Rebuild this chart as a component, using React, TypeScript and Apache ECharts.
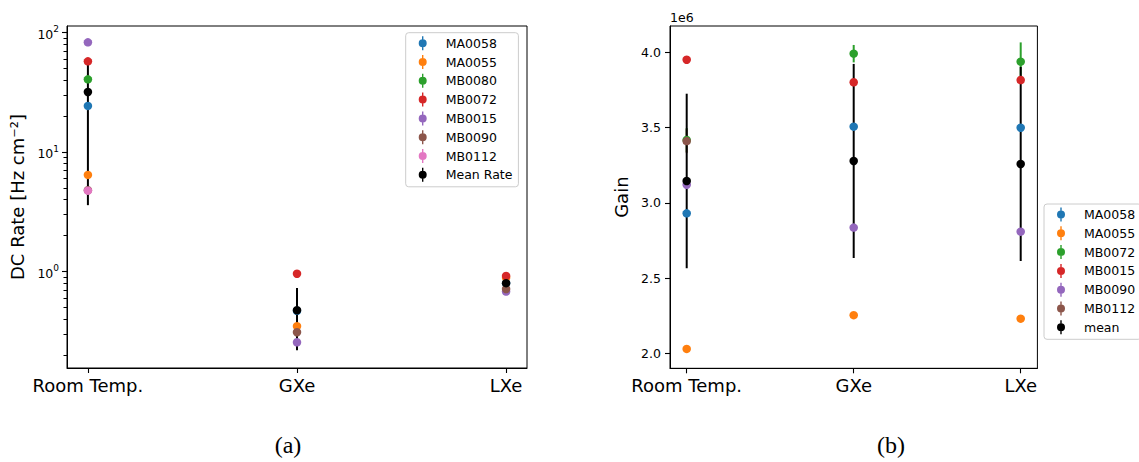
import React, { useEffect, useRef } from "react";
import * as echarts from "echarts";

// ---------- shared ----------
const categories = ["Room Temp.", "GXe", "LXe"];
const catX = [0, 1, 2];

// ---------- (a) dark-count rate [Hz cm^-2], log axis ----------
const dcNames = ["MA0058", "MA0055", "MB0080", "MB0072", "MB0015", "MB0090", "MB0112", "Mean Rate"];
const dcColors = ["#1f77b4", "#ff7f0e", "#2ca02c", "#d62728", "#9467bd", "#8c564b", "#e377c2", "#000000"];
const dcMA0058 = [24.4, 0.47, 0.8];
const dcMA0055 = [6.45, 0.349, 0.89];
const dcMB0080 = [40.7, null, null];
const dcMB0072 = [57.6, 0.96, 0.92];
const dcMB0015 = [83.0, 0.256, 0.68];
const dcMB0090 = [4.8, 0.311, 0.716];
const dcMB0112 = [4.76, null, null];
const dcMean = [31.9, 0.475, 0.8];
const dcErrMA0058 = [0.6, 0.01, 0.02];
const dcErrMA0055 = [0.2, 0.01, 0.02];
const dcErrMB0080 = [1.0, null, null];
const dcErrMB0072 = [1.4, 0.02, 0.02];
const dcErrMB0015 = [2.0, 0.01, 0.03];
const dcErrMB0090 = [0.15, 0.01, 0.02];
const dcErrMB0112 = [0.15, null, null];
const dcErrMean = [28.3, 0.255, 0.094];
const dcMajorTicks = [1, 10, 100];
const dcMinorTicks = [0.2, 0.3, 0.4, 0.5, 0.6, 0.7, 0.8, 0.9, 2, 3, 4, 5, 6, 7, 8, 9, 20, 30, 40, 50, 60, 70, 80, 90];

// ---------- (b) gain ----------
const gainNames = ["MA0058", "MA0055", "MB0072", "MB0015", "MB0090", "MB0112", "mean"];
const gainColors = ["#1f77b4", "#ff7f0e", "#2ca02c", "#d62728", "#9467bd", "#8c564b", "#000000"];
const gainMA0058 = [2.93e6, 3.506e6, 3.499e6];
const gainMA0055 = [2.029e6, 2.253e6, 2.23e6];
const gainMB0072 = [3.417e6, 3.991e6, 3.938e6];
const gainMB0015 = [3.951e6, 3.801e6, 3.816e6];
const gainMB0090 = [3.12e6, 2.835e6, 2.808e6];
const gainMB0112 = [3.41e6, null, null];
const gainMean = [3.145e6, 3.278e6, 3.258e6];
const gainErrMA0058 = [0.02e6, 0.02e6, 0.02e6];
const gainErrMA0055 = [0.01e6, 0.01e6, 0.01e6];
const gainErrMB0072 = [0.08e6, 0.058e6, 0.128e6];
const gainErrMB0015 = [0.02e6, 0.02e6, 0.02e6];
const gainErrMB0090 = [0.02e6, 0.02e6, 0.02e6];
const gainErrMB0112 = [0.08e6, null, null];
const gainErrMean = [0.58e6, 0.645e6, 0.645e6];
const gainTicks = [2.0e6, 2.5e6, 3.0e6, 3.5e6, 4.0e6];

const dcValues = [dcMA0058, dcMA0055, dcMB0080, dcMB0072, dcMB0015, dcMB0090, dcMB0112, dcMean];
const dcErrors = [dcErrMA0058, dcErrMA0055, dcErrMB0080, dcErrMB0072, dcErrMB0015, dcErrMB0090, dcErrMB0112, dcErrMean];
const gainValues = [gainMA0058, gainMA0055, gainMB0072, gainMB0015, gainMB0090, gainMB0112, gainMean];
const gainErrors = [gainErrMA0058, gainErrMA0055, gainErrMB0072, gainErrMB0015, gainErrMB0090, gainErrMB0112, gainErrMean];

const FONT = "DejaVu Sans";
const BIG = 18;
const LEGEND_ICON =
  "path://M4.3,0 L5.7,0 L5.7,14 L4.3,14 Z M1,7 A4,4 0 1,1 9,7 A4,4 0 1,1 1,7 Z";

function buildSeries(names: string[], colors: string[], values: any[], errors: any[]) {
  const series: any[] = [];
  names.forEach((name, k) => {
    const pts: any[] = [];
    const eb: any[] = [];
    catX.forEach((x, i) => {
      const v = values[k][i];
      if (v == null) return;
      pts.push([x, v]);
      const e = errors[k][i];
      if (e != null) eb.push([x, v, e]);
    });
    const color = colors[k];
    series.push({
      type: "custom",
      z: 1,
      silent: true,
      data: eb,
      encode: { x: 0, y: 1 },
      renderItem: (_p: any, api: any) => {
        const x = api.value(0);
        const y = api.value(1);
        const e = api.value(2);
        const a = api.coord([x, y - e]);
        const b = api.coord([x, y + e]);
        return {
          type: "line",
          shape: { x1: a[0], y1: a[1], x2: b[0], y2: b[1] },
          style: { stroke: color, lineWidth: 2 },
        };
      },
    });
    series.push({
      type: "scatter",
      name,
      z: 2,
      symbol: "circle",
      symbolSize: 8.5,
      itemStyle: { color, opacity: 1 },
      emphasis: { disabled: true },
      data: pts,
    });
  });
  return series;
}

const baseX = (margin: number) => ({
  type: "value",
  min: -0.1,
  max: 2.1,
  axisLine: { show: true, onZero: false, lineStyle: { color: "#000", width: 1 } },
  axisTick: { show: true, customValues: catX, length: 5, lineStyle: { color: "#000", width: 1.1 } },
  axisLabel: {
    customValues: catX,
    formatter: (v: number) => categories[Math.round(v)],
    fontSize: BIG,
    color: "#000",
    fontFamily: FONT,
    margin,
  },
  splitLine: { show: false },
});

function legendCfg(names: string[], left: number, top: number) {
  return {
    orient: "vertical",
    left,
    top,
    padding: [3.5, 6, 5, 13],
    itemWidth: 10,
    itemHeight: 14,
    itemGap: 4.8,
    backgroundColor: "#fff",
    borderColor: "#cccccc",
    borderWidth: 1,
    borderRadius: 3,
    selectedMode: false,
    data: names.map((n) => ({ name: n, icon: LEGEND_ICON })),
    textStyle: { fontSize: 12.5, fontFamily: FONT, color: "#000", padding: [0, 0, 0, 13], lineHeight: 14 },
  };
}

function caption(text: string, x: number): any {
  return {
    type: "text",
    x,
    y: 445,
    style: {
      text,
      fontSize: 24,
      fontFamily: "Liberation Serif",
      fill: "#000",
      align: "center",
      verticalAlign: "middle",
    },
  };
}

function optionA(): any {
  return {
    animation: false,
    grid: { left: 67, top: 26, width: 460, height: 342, show: true, borderColor: "#000", borderWidth: 1 },
    xAxis: [baseX(8)],
    yAxis: [
      {
        type: "log",
        logBase: 10,
        min: 0.156,
        max: 113.8,
        axisLine: { show: true, onZero: false, lineStyle: { color: "#000", width: 1 } },
        axisTick: { show: true, customValues: dcMajorTicks, length: 5, lineStyle: { color: "#000", width: 1.1 } },
        axisLabel: {
          customValues: dcMajorTicks,
          formatter: (v: number) => `{b|10}{s|${Math.round(Math.log10(v))}}`,
          margin: 8,
          rich: {
            b: { fontSize: 12.5, fontFamily: FONT, color: "#000", lineHeight: 16, verticalAlign: "bottom" },
            s: { fontSize: 9, fontFamily: FONT, color: "#000", lineHeight: 10, verticalAlign: "top" },
          },
        },
        splitLine: { show: false },
        minorTick: { show: false },
        name: "DC Rate [Hz cm⁻²]",
        nameLocation: "middle",
        nameGap: 30,
        nameTextStyle: { fontSize: BIG, fontFamily: FONT, color: "#000" },
      },
    ],
    legend: legendCfg(dcNames, 405.7, 32.7),
    series: buildSeries(dcNames, dcColors, dcValues, dcErrors),
    graphic: [caption("(a)", 288)],
  };
}

function optionB(): any {
  return {
    animation: false,
    grid: { left: 100, top: 26, width: 367.4, height: 342.3, show: true, borderColor: "#000", borderWidth: 1 },
    xAxis: [baseX(8)],
    yAxis: [
      {
        type: "value",
        min: 1.9e6,
        max: 4.175e6,
        axisLine: { show: true, onZero: false, lineStyle: { color: "#000", width: 1 } },
        axisTick: { show: true, customValues: gainTicks, length: 5, lineStyle: { color: "#000", width: 1.1 } },
        axisLabel: {
          customValues: gainTicks,
          formatter: (v: number) => (v / 1e6).toFixed(1),
          fontSize: 12.5,
          fontFamily: FONT,
          color: "#000",
          margin: 9,
        },
        splitLine: { show: false },
        name: "Gain",
        nameLocation: "middle",
        nameGap: 31,
        nameTextStyle: { fontSize: BIG, fontFamily: FONT, color: "#000" },
      },
    ],
    legend: legendCfg(gainNames, 474, 204),
    series: buildSeries(gainNames, gainColors, gainValues, gainErrors),
    graphic: [
      {
        type: "text",
        left: 100,
        top: 11,
        style: { text: "1e6", fontSize: 12.5, fontFamily: FONT, fill: "#000" },
      },
      caption("(b)", 321),
    ],
  };
}

export default function App() {
  const refA = useRef<HTMLDivElement>(null);
  const refB = useRef<HTMLDivElement>(null);
  useEffect(() => {
    document.body.style.margin = "0";
    const a = echarts.init(refA.current!, null, { renderer: "svg" });
    const b = echarts.init(refB.current!, null, { renderer: "svg" });
    a.setOption(optionA());
    b.setOption(optionB());
    // minor log ticks: positions taken from the axis scale of chart (a)
    const x0 = Math.round(a.convertToPixel({ xAxisIndex: 0 }, -0.1) as number);
    const minorLines = dcMinorTicks.map((v) => {
      const y = Math.floor(a.convertToPixel({ yAxisIndex: 0 }, v) as number) + 0.5;
      return {
        type: "line",
        silent: true,
        z: 100,
        shape: { x1: x0 - 3.5, y1: y, x2: x0, y2: y },
        style: { stroke: "#000", lineWidth: 1 },
      };
    });
    a.setOption({ graphic: [caption("(a)", 288), ...minorLines] });
    return () => {
      a.dispose();
      b.dispose();
    };
  }, []);
  return (
    <div style={{ position: "relative", width: 1139, height: 462, background: "#fff", overflow: "hidden" }}>
      <div ref={refA} style={{ position: "absolute", left: 0, top: 0, width: 570, height: 462 }} />
      <div ref={refB} style={{ position: "absolute", left: 570, top: 0, width: 569, height: 462 }} />
    </div>
  );
}
